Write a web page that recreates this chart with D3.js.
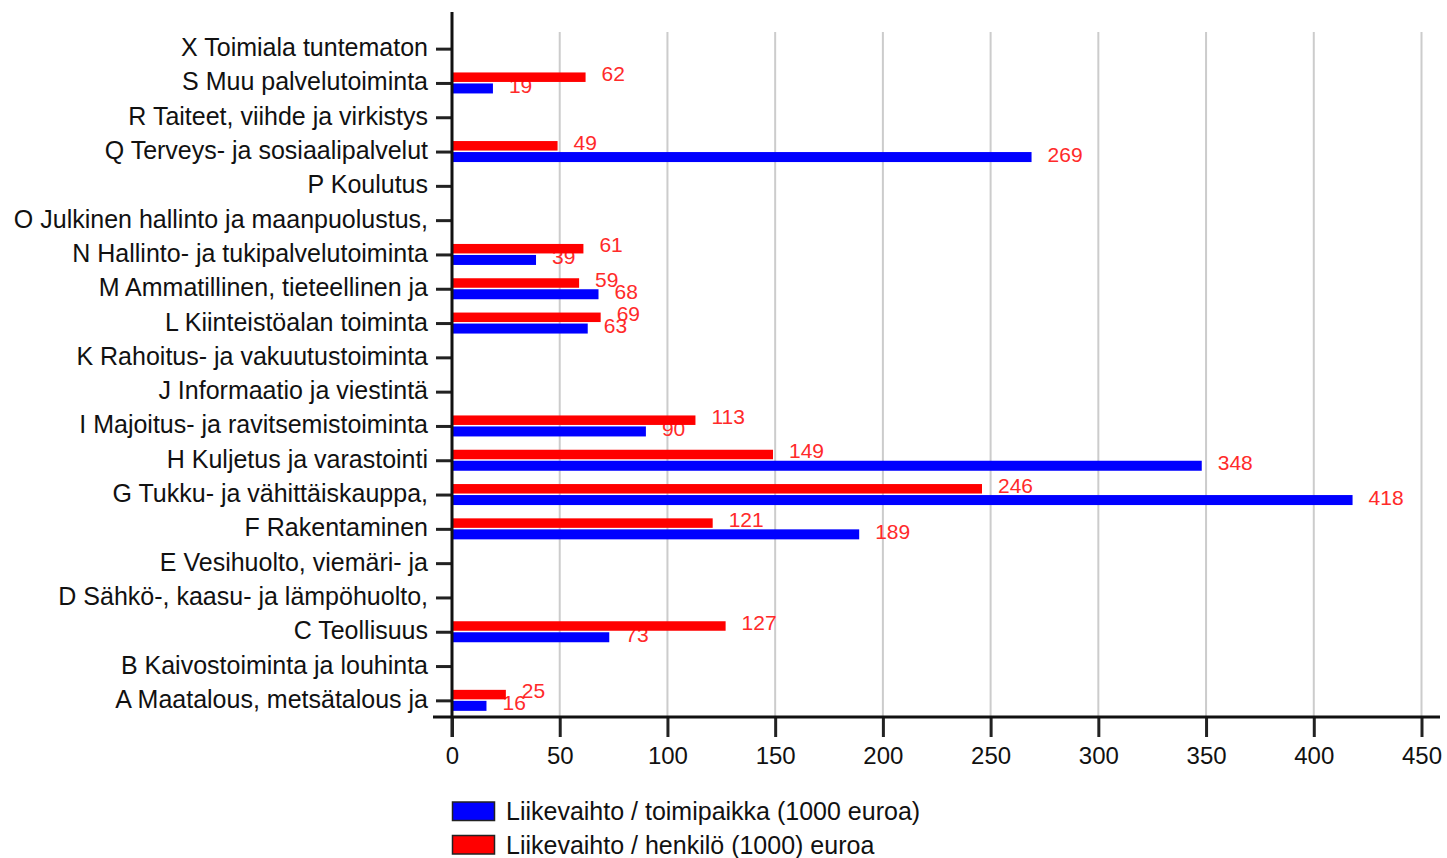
<!DOCTYPE html>
<html>
<head>
<meta charset="utf-8">
<script src="https://cdn.jsdelivr.net/npm/d3@7"></script>
<style>
  html, body { margin: 0; padding: 0; background: #fff; }
  svg { display: block; font-family: "Liberation Sans", Arial, sans-serif; }
</style>
</head>
<body>
<svg id="chart" width="1447" height="858"></svg>
<script>
const categories = [
  "X Toimiala tuntematon",
  "S Muu palvelutoiminta",
  "R Taiteet, viihde ja virkistys",
  "Q Terveys- ja sosiaalipalvelut",
  "P Koulutus",
  "O Julkinen hallinto ja maanpuolustus,",
  "N Hallinto- ja tukipalvelutoiminta",
  "M Ammatillinen, tieteellinen ja",
  "L Kiinteistöalan toiminta",
  "K Rahoitus- ja vakuutustoiminta",
  "J Informaatio ja viestintä",
  "I Majoitus- ja ravitsemistoiminta",
  "H Kuljetus ja varastointi",
  "G Tukku- ja vähittäiskauppa,",
  "F Rakentaminen",
  "E Vesihuolto, viemäri- ja",
  "D Sähkö-, kaasu- ja lämpöhuolto,",
  "C Teollisuus",
  "B Kaivostoiminta ja louhinta",
  "A Maatalous, metsätalous ja"
];
// Liikevaihto / toimipaikka (1000 euroa)
const perEstablishment = [null, 19, null, 269, null, null, 39, 68, 63, null, null, 90, 348, 418, 189, null, null, 73, null, 16];
// Liikevaihto / henkilö (1000) euroa
const perPerson = [null, 62, null, 49, null, null, 61, 59, 69, null, null, 113, 149, 246, 121, null, null, 127, null, 25];
const xTicks = [0, 50, 100, 150, 200, 250, 300, 350, 400, 450];
const seriesNames = ["Liikevaihto / toimipaikka (1000 euroa)", "Liikevaihto / henkilö (1000) euroa"];
const seriesColors = ["#0000ff", "#ff0000"];

const svg = d3.select("#chart");
const x = d3.scaleLinear().domain([0, 450]).range([452, 1421.5]);
const y = d3.scaleBand().domain(categories).range([32, 718]);
const bw = y.bandwidth();
const cy = d => y(d) + bw / 2;

// gridlines
svg.append("g").selectAll("line").data(xTicks.filter(t => t > 0)).join("line")
  .attr("x1", d => x(d)).attr("x2", d => x(d))
  .attr("y1", 32).attr("y2", 717)
  .attr("stroke", "#cccccc").attr("stroke-width", 2);

const rows = categories.map((c, i) => ({c, b: perEstablishment[i], r: perPerson[i]}));

// blue bars and labels
const gB = svg.append("g");
gB.selectAll("rect").data(rows.filter(d => d.b != null)).join("rect")
  .attr("x", x(0)).attr("y", d => cy(d.c))
  .attr("width", d => x(d.b) - x(0)).attr("height", 10)
  .attr("fill", seriesColors[0]);
gB.selectAll("text").data(rows.filter(d => d.b != null)).join("text")
  .attr("x", d => x(d.b) + 16).attr("y", d => cy(d.c) + 2)
  .attr("dominant-baseline", "central")
  .attr("font-size", 21).attr("fill", "#ff2a2a")
  .text(d => d.b);

// red bars and labels
const gR = svg.append("g");
gR.selectAll("rect").data(rows.filter(d => d.r != null)).join("rect")
  .attr("x", x(0)).attr("y", d => cy(d.c) - 11)
  .attr("width", d => x(d.r) - x(0)).attr("height", 9.5)
  .attr("fill", seriesColors[1]);
gR.selectAll("text").data(rows.filter(d => d.r != null)).join("text")
  .attr("x", d => x(d.r) + 16).attr("y", d => cy(d.c) - 10)
  .attr("dominant-baseline", "central")
  .attr("font-size", 21).attr("fill", "#ff2a2a")
  .text(d => d.r);

// y axis
const yAxis = d3.axisLeft(y).tickSize(16).tickPadding(8);
const gy = svg.append("g").attr("transform", "translate(452,0)").call(yAxis);
gy.select(".domain").remove();
gy.selectAll(".tick line").attr("stroke", "#222").attr("stroke-width", 3);
gy.selectAll(".tick text").attr("font-size", 25).attr("fill", "#111")
  .attr("dy", "0.28em")
  .attr("font-family", "Liberation Sans, Arial, sans-serif");
svg.append("line").attr("x1", 452).attr("x2", 452).attr("y1", 12).attr("y2", 737)
  .attr("stroke", "#111").attr("stroke-width", 3);

// x axis
const xAxis = d3.axisBottom(x).tickValues(xTicks).tickSize(20).tickPadding(10);
const gx = svg.append("g").attr("transform", "translate(0,717)").call(xAxis);
gx.select(".domain").remove();
gx.selectAll(".tick line").attr("stroke", "#222").attr("stroke-width", 3);
gx.selectAll(".tick text").attr("font-size", 24).attr("fill", "#111")
  .attr("font-family", "Liberation Sans, Arial, sans-serif");
svg.append("line").attr("x1", 433).attr("x2", 1440).attr("y1", 717).attr("y2", 717)
  .attr("stroke", "#111").attr("stroke-width", 3);

// legend
const lg = svg.append("g");
seriesNames.forEach((name, i) => {
  const ly = 802 + i * 33.5;
  lg.append("rect").attr("x", 452.5).attr("y", ly).attr("width", 42).attr("height", 18.5)
    .attr("fill", seriesColors[i]).attr("stroke", "#222").attr("stroke-width", 1.5);
  lg.append("text").attr("x", 506).attr("y", ly + 18)
    .attr("font-size", 25).attr("fill", "#111").text(name);
});
</script>
</body>
</html>
